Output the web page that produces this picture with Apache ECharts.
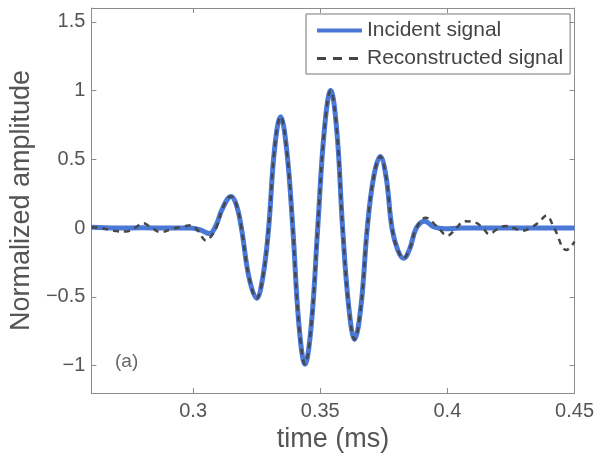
<!DOCTYPE html>
<html>
<head>
<meta charset="utf-8">
<script src="https://cdn.jsdelivr.net/npm/echarts@6/dist/echarts.min.js"></script>
<style>html,body{margin:0;padding:0;background:#fff;}#c{width:597px;height:458px;}</style>
</head>
<body>
<div id="c"></div>
<script>
// ---- data ----
var xTicks = [0.3, 0.35, 0.4, 0.45];
var yTicks = [-1, -0.5, 0, 0.5, 1, 1.5];

var incidentT = [0.2600,0.2700,0.2800,0.2900,0.2990,0.3030,0.3065,0.3090,0.3115,0.3149,0.3170,0.3190,0.3220,0.3250,0.3274,0.3297,0.3320,0.3344,0.3368,0.3392,0.3416,0.3440,0.3465,0.3490,0.3516,0.3541,0.3565,0.3588,0.3612,0.3635,0.3660,0.3685,0.3710,0.3736,0.3759,0.3782,0.3805,0.3828,0.3852,0.3878,0.3911,0.3945,0.3990,0.4050,0.4200,0.4350,0.4500];
var incidentA = [0.005,0.000,0.002,0.000,0.000,-0.015,-0.040,0.020,0.140,0.230,0.170,0.000,-0.360,-0.510,-0.360,0.000,0.570,0.810,0.570,0.000,-0.700,-0.990,-0.700,0.000,0.710,1.000,0.710,0.000,-0.570,-0.810,-0.570,0.000,0.370,0.520,0.370,0.000,-0.160,-0.220,-0.150,0.000,0.050,0.010,-0.005,0.000,0.000,0.000,0.000];

var reconT = [0.2600,0.2640,0.2686,0.2736,0.2770,0.2802,0.2835,0.2872,0.2920,0.2960,0.2990,0.3020,0.3050,0.3075,0.3095,0.3115,0.3149,0.3170,0.3190,0.3220,0.3250,0.3274,0.3297,0.3320,0.3344,0.3368,0.3392,0.3416,0.3440,0.3465,0.3490,0.3516,0.3541,0.3565,0.3588,0.3612,0.3635,0.3660,0.3685,0.3710,0.3736,0.3759,0.3782,0.3805,0.3828,0.3852,0.3878,0.3915,0.3960,0.4000,0.4035,0.4067,0.4110,0.4140,0.4164,0.4195,0.4229,0.4260,0.4293,0.4330,0.4358,0.4389,0.4420,0.4468,0.4500];
var reconA = [0.005,0.000,-0.020,-0.025,0.000,0.035,0.005,-0.030,-0.005,0.010,0.020,-0.020,-0.090,-0.050,0.020,0.140,0.230,0.170,0.000,-0.360,-0.510,-0.360,0.000,0.570,0.810,0.570,0.000,-0.700,-0.990,-0.700,0.000,0.710,1.000,0.710,0.000,-0.570,-0.810,-0.570,0.000,0.370,0.520,0.370,0.000,-0.160,-0.220,-0.150,0.000,0.075,0.010,-0.055,0.000,0.050,0.040,0.000,-0.045,-0.010,0.015,0.000,-0.020,0.005,0.040,0.090,0.000,-0.160,-0.100];

function pairs(t, a) { return t.map(function (v, i) { return [v, a[i]]; }); }

var FONT = '"Liberation Sans", Arial, sans-serif';
var frame = '#8c8c8c';
var txt = '#555';
var blue = '#4a78d6';
var dark = '#474747';

var chart = echarts.init(document.getElementById('c'), null, {renderer: 'canvas'});
chart.setOption({
  backgroundColor: '#fff',
  animation: false,
  textStyle: {fontFamily: FONT},
  title: {text: '(a)', left: 115, top: 352, padding: 0, textStyle: {fontSize: 19, fontWeight: 'normal', color: '#666', fontFamily: FONT}},
  grid: {left: 88, right: 22, top: 8, bottom: 62, containLabel: false},
  legend: {
    orient: 'vertical', left: 306, top: 14,
    padding: [6, 7, 5, 9], itemGap: 7, itemWidth: 45, itemHeight: 20,
    borderColor: '#777', borderWidth: 1, backgroundColor: '#fff',
    textStyle: {fontSize: 21, color: '#444', fontFamily: FONT},
    data: [
      {name: 'Incident signal', itemStyle: {opacity: 0}, lineStyle: {width: 4, color: blue}},
      {name: 'Reconstructed signal', itemStyle: {opacity: 0}, lineStyle: {width: 3, color: dark, type: [9, 7]}}
    ]
  },
  xAxis: [{
    type: 'value', min: 0.26, max: 0.45, position: 'bottom',
    name: 'time (ms)', nameLocation: 'middle', nameGap: 31,
    nameTextStyle: {fontSize: 27, color: txt, fontFamily: FONT},
    axisLine: {onZero: false, lineStyle: {color: frame, width: 1}},
    axisTick: {inside: true, length: 5, customValues: xTicks, lineStyle: {color: frame}},
    axisLabel: {customValues: xTicks, fontSize: 20, color: txt, margin: 8, fontFamily: FONT},
    splitLine: {show: false}
  }, {
    type: 'value', min: 0.26, max: 0.45, position: 'top',
    axisLine: {onZero: false, lineStyle: {color: frame, width: 1}},
    axisTick: {inside: true, length: 5, customValues: xTicks, lineStyle: {color: frame}},
    axisLabel: {show: false}, splitLine: {show: false}
  }],
  yAxis: [{
    type: 'value', min: -1.2, max: 1.6, position: 'left',
    name: 'Normalized amplitude', nameLocation: 'middle', nameGap: 54,
    nameTextStyle: {fontSize: 27, color: txt, fontFamily: FONT},
    axisLine: {show: true, onZero: false, lineStyle: {color: frame, width: 1}},
    axisTick: {show: true, inside: true, length: 5, customValues: yTicks, lineStyle: {color: frame}},
    axisLabel: {customValues: yTicks, fontSize: 20, color: txt, margin: 6, fontFamily: FONT,
      formatter: function (v) { return String(v).replace('-', '\u2212'); }},
    splitLine: {show: false}
  }, {
    type: 'value', min: -1.2, max: 1.6, position: 'right',
    axisLine: {show: true, onZero: false, lineStyle: {color: frame, width: 1}},
    axisTick: {show: true, inside: true, length: 5, customValues: yTicks, lineStyle: {color: frame}},
    axisLabel: {show: false}, splitLine: {show: false}
  }],
  series: [{
    name: 'Incident signal', type: 'line', xAxisIndex: 0, yAxisIndex: 0,
    data: pairs(incidentT, incidentA), smooth: 0.4, showSymbol: false, symbol: 'none',
    lineStyle: {color: blue, width: 5}, itemStyle: {color: blue}, z: 2
  }, {
    name: 'Reconstructed signal', type: 'line', xAxisIndex: 0, yAxisIndex: 0,
    data: pairs(reconT, reconA), smooth: 0.4, showSymbol: false, symbol: 'none',
    lineStyle: {color: dark, width: 2.5, type: [6, 5]}, itemStyle: {color: dark}, z: 3
  }]
});
</script>
</body>
</html>
